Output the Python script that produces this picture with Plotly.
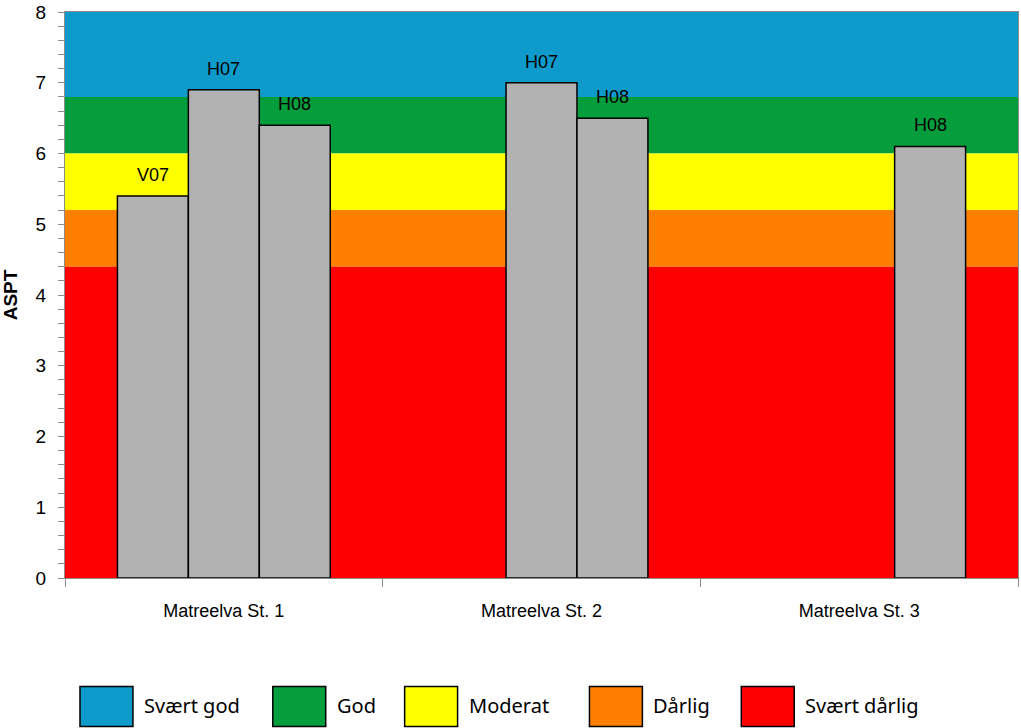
import plotly.graph_objects as go

# ---- data ----
stations = ["Matreelva St. 1", "Matreelva St. 2", "Matreelva St. 3"]
series_names = ["V07", "H07", "H08"]
v07 = [5.4, None, None]
h07 = [6.9, 7.0, None]
h08 = [6.4, 6.5, 6.1]
series_values = [v07, h07, h08]

class_names = ["Svært god", "God", "Moderat", "Dårlig", "Svært dårlig"]
class_colors = ["#0E9BCB", "#069E3C", "#FFFF00", "#FF8000", "#FF0000"]
class_upper = [8.0, 6.8, 6.0, 5.2, 4.4]
class_lower = [6.8, 6.0, 5.2, 4.4, 0.0]

y_ticks = [0, 1, 2, 3, 4, 5, 6, 7, 8]

# ---- layout geometry ----
W, H = 1021, 728
ML, MR, MT, MB = 65, 2, 10, 150
plot_w = W - ML - MR
plot_h = H - MT - MB
bargap = 0.33
slot_px = plot_w / len(stations) * (1 - bargap) / len(series_names)

AXIS_COLOR = "#8C8C8C"
BAR_COLOR = "#B2B2B2"

fig = go.Figure()
for name, vals in zip(series_names, series_values):
    fig.add_trace(go.Bar(
        x=stations, y=vals, name=name,
        marker=dict(color=BAR_COLOR, line=dict(color="black", width=1.5)),
        showlegend=False, hoverinfo="x+y+name",
    ))

# colored class bands
for lo, hi, col in zip(class_lower, class_upper, class_colors):
    fig.add_shape(type="rect", xref="paper", yref="y", x0=0, x1=1, y0=lo, y1=hi,
                  fillcolor=col, line=dict(width=0), layer="below")

# bar labels
annotations = []
for i, (name, vals) in enumerate(zip(series_names, series_values)):
    for st, v in zip(stations, vals):
        if v is None:
            continue
        annotations.append(dict(
            x=st, y=v, xref="x", yref="y", text=name, showarrow=False,
            yanchor="bottom", yshift=9, xshift=(i - (len(series_names) - 1) / 2) * slot_px,
            font=dict(family="Liberation Sans, Arial", size=18, color="black"),
        ))

# custom legend (large boxes at bottom)
def px_x(px):
    return (px - ML) / plot_w

def px_y(py):
    return (H - MB - py) / plot_h

legend_box_x = [80, 273, 405, 590, 742]
box_w, box_top, box_bot = 53, 687, 727
for bx, name, col in zip(legend_box_x, class_names, class_colors):
    fig.add_shape(type="rect", xref="paper", yref="paper",
                  x0=px_x(bx), x1=px_x(bx + box_w), y0=px_y(box_bot), y1=px_y(box_top),
                  fillcolor=col, line=dict(color="black", width=1.5))
    annotations.append(dict(
        x=px_x(bx + box_w + 9), y=px_y((box_top + box_bot) / 2 - 1), xref="paper", yref="paper",
        text=name, showarrow=False, xanchor="left", yanchor="middle",
        font=dict(family="Noto Sans, Open Sans", size=20, color="black"),
    ))

fig.update_layout(
    width=W, height=H,
    margin=dict(l=ML, r=MR, t=MT, b=MB),
    paper_bgcolor="white", plot_bgcolor="white",
    barmode="group", bargap=bargap, bargroupgap=0,
    showlegend=False,
    annotations=annotations,
    font=dict(family="Liberation Sans, Arial", color="black"),
)
fig.update_xaxes(
    showline=True, linecolor=AXIS_COLOR, linewidth=1, mirror=True,
    ticks="outside", tickson="boundaries", ticklen=8, tickcolor=AXIS_COLOR,
    tickfont=dict(size=18, family="Liberation Sans, Arial"),
    ticklabelstandoff=16, showgrid=False,
)
fig.update_yaxes(
    range=[0, 8], tickvals=y_ticks,
    showline=True, linecolor=AXIS_COLOR, linewidth=1, mirror=True,
    ticks="outside", ticklen=6, tickcolor=AXIS_COLOR,
    minor=dict(dtick=0.2, ticks="outside", ticklen=6, tickcolor=AXIS_COLOR, showgrid=False),
    tickfont=dict(size=19, family="Liberation Sans, Arial"),
    ticklabelstandoff=8, ticklabeloverflow="allow", showgrid=False, zeroline=False,
    title=dict(text="<b>ASPT</b>", font=dict(size=19, family="Liberation Sans, Arial"), standoff=14),
)

fig.write_html("out.html")
